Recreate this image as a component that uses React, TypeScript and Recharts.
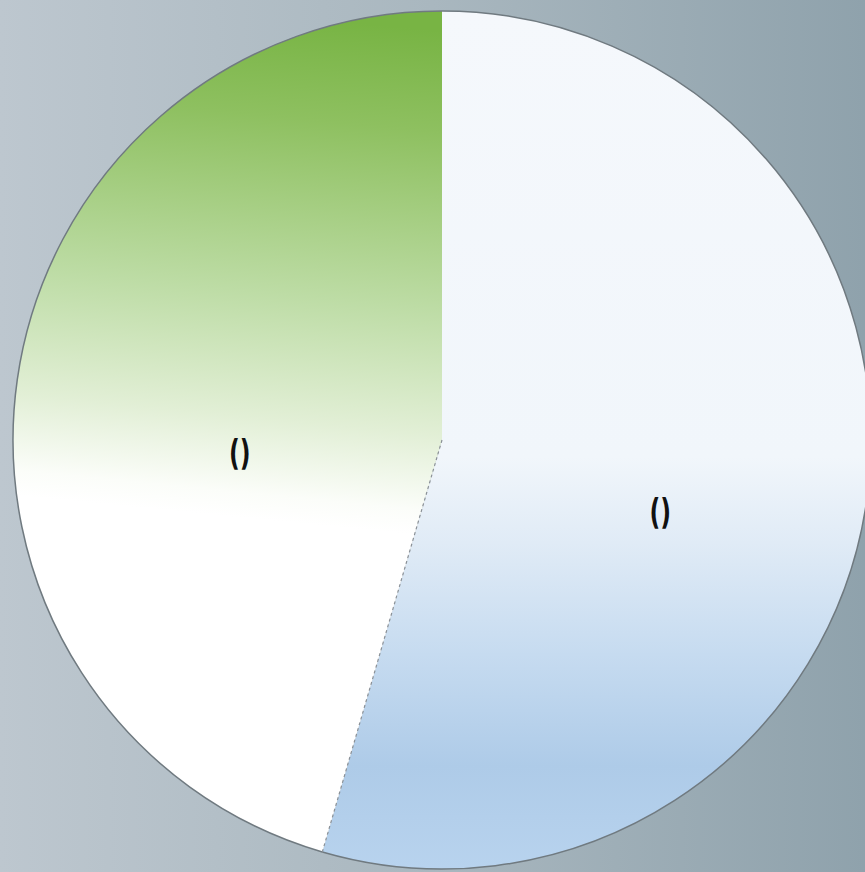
import React from "react";
import { PieChart, Pie, Cell } from "recharts";

const categories = ["", ""];
const values = [54.5, 45.5];
const labelTexts = ["()", "()"];
const fills = ["url(#blueGrad)", "url(#greenGrad)"];

const data = categories.map((name, i) => ({ name, value: values[i], label: labelTexts[i] }));

const RAD = Math.PI / 180;
const pt = (cx: number, cy: number, r: number, a: number) => ({
  x: cx + r * Math.cos(-a * RAD),
  y: cy + r * Math.sin(-a * RAD),
});

const renderLabel = (props: any) => {
  const { cx, cy, midAngle, outerRadius, startAngle, endAngle, index } = props;
  const s = pt(cx, cy, outerRadius, startAngle);
  const e = pt(cx, cy, outerRadius, endAngle);
  const large = Math.abs(startAngle - endAngle) > 180 ? 1 : 0;
  const sweep = startAngle > endAngle ? 1 : 0;
  const lp = pt(cx, cy, outerRadius * 0.495, midAngle);
  return (
    <g>
      <path
        d={`M ${s.x} ${s.y} A ${outerRadius} ${outerRadius} 0 ${large} ${sweep} ${e.x} ${e.y}`}
        fill="none"
        stroke="#707a80"
        strokeWidth={1.5}
      />
      {index === 1 && (
        <line x1={cx} y1={cy} x2={s.x} y2={s.y} stroke="#8a9096" strokeWidth={1.2} strokeDasharray="3 3" />
      )}
      <g transform={`translate(${lp.x + 8}, ${lp.y + 42}) scale(0.75, 1)`}>
        <text
          x={0}
          y={0}
          textAnchor="middle"
          dominantBaseline="central"
          fontFamily="'Liberation Sans Narrow', 'DejaVu Sans Condensed', 'Liberation Sans', sans-serif"
          fontWeight="bold"
          fontSize={35}
          fill="#111"
        >
          {props.payload?.label ?? labelTexts[index]}
        </text>
      </g>
    </g>
  );
};

export default function App() {
  return (
    <div
      style={{
        position: "fixed",
        left: 0,
        top: 0,
        width: 865,
        height: 872,
        background: "linear-gradient(to right, #bdc7cf 0%, #a9b7bf 50%, #8fa2ac 100%)",
        overflow: "hidden",
      }}
    >
      <PieChart width={865} height={872} margin={{ top: 0, right: 0, bottom: 0, left: 0 }}>
        <defs>
          <linearGradient id="greenGrad" x1="0.515" y1="0" x2="0.485" y2="0.6">
            <stop offset="0" stopColor="#78b444" />
            <stop offset="0.2" stopColor="#8ec060" />
            <stop offset="0.55" stopColor="#bddca5" />
            <stop offset="0.8" stopColor="#e2efd6" />
            <stop offset="0.95" stopColor="#fbfdf9" />
            <stop offset="1" stopColor="#ffffff" />
          </linearGradient>
          <linearGradient id="blueGrad" x1="0" y1="0" x2="0" y2="1">
            <stop offset="0" stopColor="#f5f8fc" />
            <stop offset="0.52" stopColor="#f1f6fb" />
            <stop offset="0.62" stopColor="#e0ebf6" />
            <stop offset="0.75" stopColor="#c6dbf0" />
            <stop offset="0.88" stopColor="#aecbe8" />
            <stop offset="1" stopColor="#b8d3ee" />
          </linearGradient>
        </defs>
        <Pie
          data={data}
          dataKey="value"
          nameKey="name"
          cx={442}
          cy={440}
          outerRadius={429}
          startAngle={90}
          endAngle={-270}
          stroke="none"
          labelLine={false}
          label={renderLabel}
          isAnimationActive={false}
        >
          {data.map((d, i) => (
            <Cell key={i} fill={fills[i]} stroke="none" />
          ))}
        </Pie>
      </PieChart>
    </div>
  );
}
